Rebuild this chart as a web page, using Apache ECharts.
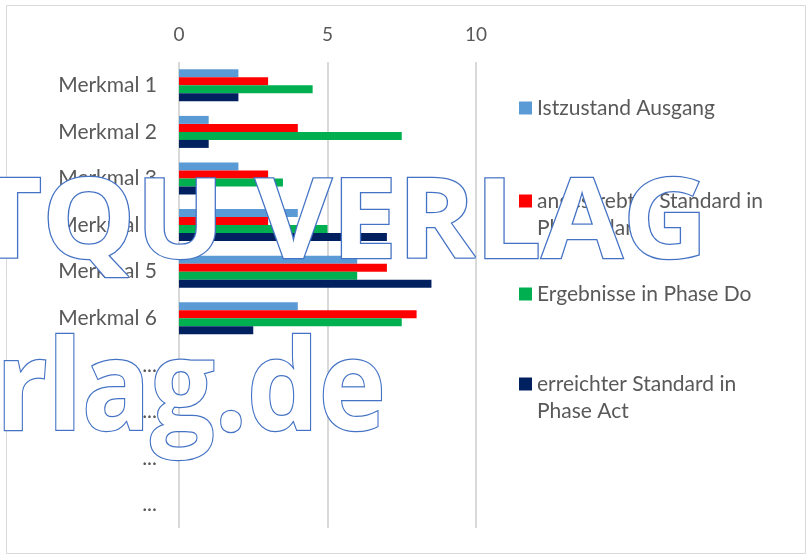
<!DOCTYPE html>
<html>
<head>
<meta charset="utf-8">
<script src="https://cdn.jsdelivr.net/npm/echarts@6/dist/echarts.min.js"></script>
<style>
  html, body { margin: 0; padding: 0; background: #fff; }
  #chart { width: 809px; height: 556px; }
</style>
</head>
<body>
<div id="chart"></div>
<script>
// Daten
const categories = ["Merkmal 1", "Merkmal 2", "Merkmal 3", "Merkmal 4", "Merkmal 5", "Merkmal 6", "...", "...", "...", "..."];
const seriesNames = ["Istzustand Ausgang", "angestrebter Standard in Phase Plan", "Ergebnisse in Phase Do", "erreichter Standard in Phase Act"];
const istzustand = [2, 1, 2, 4, 6, 4, null, null, null, null];
const angestrebt = [3, 4, 3, 3, 7, 8, null, null, null, null];
const ergebnisse = [4.5, 7.5, 3.5, 5, 6, 7.5, null, null, null, null];
const erreicht = [2, 1, 1, 7, 8.5, 2.5, null, null, null, null];
const xTicks = [0, 5, 10];

const colors = ["#5B9BD5", "#FF0000", "#00B050", "#002060"];
const font = "Lato";

const chart = echarts.init(document.getElementById("chart"));

// Legende: je Eintrag eine eigene Legende, damit die Zeilen wie im Original sitzen.
// Zweizeilige Einträge bekommen eine leere erste Zeile, damit die erste Textzeile neben dem Symbol steht.
const legendTops = [94.5, 160.5, 280.5, 343.5];
const legendText = {
  "angestrebter Standard in Phase Plan": "\nangestrebter Standard in\nPhase Plan",
  "erreichter Standard in Phase Act": "\nerreichter Standard in\nPhase Act"
};
const legends = seriesNames.map((name, i) => ({
  data: [name],
  orient: "vertical",
  left: 519,
  top: legendTops[i],
  padding: 0,
  itemWidth: 13,
  itemHeight: 13,
  itemGap: 0,
  icon: "rect",
  selectedMode: false,
  formatter: (n) => legendText[n] || n,
  textStyle: {
    fontFamily: font,
    fontSize: 21,
    color: "#595959",
    lineHeight: 27
  }
}));

// Wasserzeichen
const watermarkStyle = {
  fill: "#ffffff",
  stroke: "#4472C4",
  lineWidth: 2.5,
  fontFamily: "Open Sans",
  fontWeight: "bold",
  shadowBlur: 5,
  shadowColor: "rgba(0,0,0,0.35)",
  shadowOffsetX: 2,
  shadowOffsetY: 3,
  verticalAlign: "middle"
};

chart.setOption({
  animation: false,
  color: colors,
  legend: legends,
  grid: { left: 179, right: 333, top: 62, bottom: 28, containLabel: false },
  xAxis: {
    type: "value",
    position: "top",
    min: xTicks[0],
    max: xTicks[xTicks.length - 1],
    interval: 5,
    axisLine: { show: false },
    axisTick: { show: false },
    axisLabel: { fontFamily: font, fontSize: 19, color: "#595959", margin: 18 },
    splitLine: { lineStyle: { color: "#d9d9d9", width: 2 } }
  },
  yAxis: {
    type: "category",
    data: categories,
    inverse: true,
    axisLine: { show: false },
    axisTick: { show: false },
    axisLabel: { fontFamily: font, fontSize: 21, color: "#595959", margin: 22 }
  },
  series: [istzustand, angestrebt, ergebnisse, erreicht].map((d, i) => ({
    name: seriesNames[i],
    type: "bar",
    data: d,
    barWidth: 8,
    barGap: "0%"
  })),
  graphic: [
    {
      type: "rect",
      silent: true,
      z: -10,
      shape: { x: 6.5, y: 5.5, width: 799, height: 548 },
      style: { fill: "none", stroke: "#d9d9d9", lineWidth: 1 }
    },
    {
      type: "text",
      silent: true,
      z: 100,
      x: -26,
      y: 226.5,
      scaleX: 1.05,
      style: Object.assign({ text: "TQU VERLAG", fontSize: 112 }, watermarkStyle)
    },
    {
      type: "text",
      silent: true,
      z: 100,
      x: -4,
      y: 394,
      scaleX: 0.9,
      style: Object.assign({ text: "rlag.de", fontSize: 126 }, watermarkStyle)
    }
  ]
});
</script>
</body>
</html>
